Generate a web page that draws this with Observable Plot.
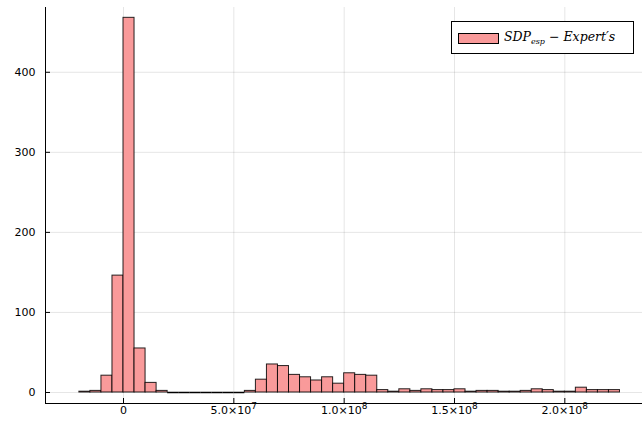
<!DOCTYPE html>
<html><head><meta charset="utf-8">
<script src="https://cdn.jsdelivr.net/npm/d3@7"></script>
<script src="https://cdn.jsdelivr.net/npm/@observablehq/plot@0.6"></script>
<style>
body{margin:0;background:#fff;}
#wrap{position:relative;width:643px;height:433px;}
#legend{position:absolute;left:451px;top:21px;width:183px;height:33px;border:1px solid #000;background:#fff;box-sizing:border-box;}
#legend .sw{position:absolute;left:6px;top:11px;width:41px;height:11px;background:#f99a9a;border:1px solid #000;box-sizing:border-box;}
#legend .lt{position:absolute;left:52px;top:7px;font:italic 12.5px "DejaVu Serif";white-space:nowrap;color:#000;}
#legend .lt sub{font-size:8px;vertical-align:-3px;}
#legend .lt .op{font-style:normal;margin:0 4px;}
</style></head>
<body><div id="wrap"></div>
<script>
const binLeft = [-2e7,-1.5e7,-1e7,-5e6,0,5e6,1e7,1.5e7,2e7,2.5e7,3e7,3.5e7,4e7,4.5e7,5e7,5.5e7,6e7,6.5e7,7e7,7.5e7,8e7,8.5e7,9e7,9.5e7,1e8,1.05e8,1.1e8,1.15e8,1.2e8,1.25e8,1.3e8,1.35e8,1.4e8,1.45e8,1.5e8,1.55e8,1.6e8,1.65e8,1.7e8,1.75e8,1.8e8,1.85e8,1.9e8,1.95e8,2e8,2.05e8,2.1e8,2.15e8,2.2e8];
const binWidth = 5e6;
const counts = [1,2,21,146,468,55,12,2,0,0,0,0,0,0,0,2,16,35,33,22,19,15,19,11,24,22,21,3,1,4,2,4,3,3,4,1,2,2,1,1,2,4,3,1,1,6,3,3,3];
const xTicks = [0,5e7,1e8,1.5e8,2e8];
const yTicks = [0,100,200,300,400];
const seriesLabel = "SDP_esp − Expert's";

const bins = binLeft.map((x1,i)=>({x1, x2:x1+binWidth, count:counts[i]}));
const fmtX = d => {
  if (d===0) return "0";
  const e = Math.floor(Math.log10(d));
  return (d/10**e).toFixed(1)+"×10^"+e;
};
const W=643,H=433,mL=45,mR=1,mT=7,mB=30;
const xDom=[-3.535e7,2.352e8], yDom=[-13.75,480.9];
const plot = Plot.plot({
  width:W,height:H,marginLeft:mL,marginRight:mR,marginTop:mT,marginBottom:mB,
  style:{fontFamily:"DejaVu Sans",fontSize:"11px",background:"#fff",color:"#000"},
  x:{domain:xDom,axis:null},
  y:{domain:yDom,axis:null},
  marks:[
    Plot.ruleX(xTicks,{x:d=>d,stroke:"#000",strokeOpacity:0.1}),
    Plot.ruleY(yTicks,{y:d=>d,stroke:"#000",strokeOpacity:0.1}),
    Plot.rectY(bins,{x1:"x1",x2:"x2",y1:0,y2:"count",fill:"#f99a9a",stroke:"#000",strokeWidth:1,strokeOpacity:0.85}),
    Plot.ruleY(bins.filter(d=>d.count===0),{y:"count",x1:"x1",x2:"x2",stroke:"#000",strokeWidth:1.5}),
    Plot.ruleX([xDom[0]],{stroke:"#000"}),
    Plot.ruleY([yDom[0]],{stroke:"#000"}),
    Plot.ruleX(xTicks,{x:d=>d,stroke:"#000",insetTop:H-mT-mB-5}),
    Plot.ruleY(yTicks,{y:d=>d,stroke:"#000",insetRight:W-mL-mR-5}),
    Plot.axisX(xTicks,{tickSize:0,tickPadding:3,tickFormat:fmtX,fontSize:11,label:null}),
    Plot.axisY(yTicks,{tickSize:0,tickPadding:10,fontSize:11,label:null})
  ]
});
plot.querySelectorAll("text").forEach(t=>{
  const s=t.textContent;
  if (s.includes("^")) {
    const [m,e]=s.split("^");
    t.textContent="";
    const a=document.createElementNS("http://www.w3.org/2000/svg","tspan");
    a.textContent=m; t.appendChild(a);
    const b=document.createElementNS("http://www.w3.org/2000/svg","tspan");
    b.textContent=e; b.setAttribute("dy","-5"); b.setAttribute("font-size","9"); t.appendChild(b);
  }
});
const wrap=document.getElementById("wrap");
wrap.appendChild(plot);
const [base, sub] = seriesLabel.split(" − ")[0].split("_");
const rest = seriesLabel.split(" − ")[1];
const lg=document.createElement("div");
lg.id="legend";
lg.innerHTML=`<div class="sw"></div><div class="lt">${base}<sub>${sub}</sub><span class="op">−</span>${rest.replace("'","′")}</div>`;
wrap.appendChild(lg);
</script>
</body></html>
